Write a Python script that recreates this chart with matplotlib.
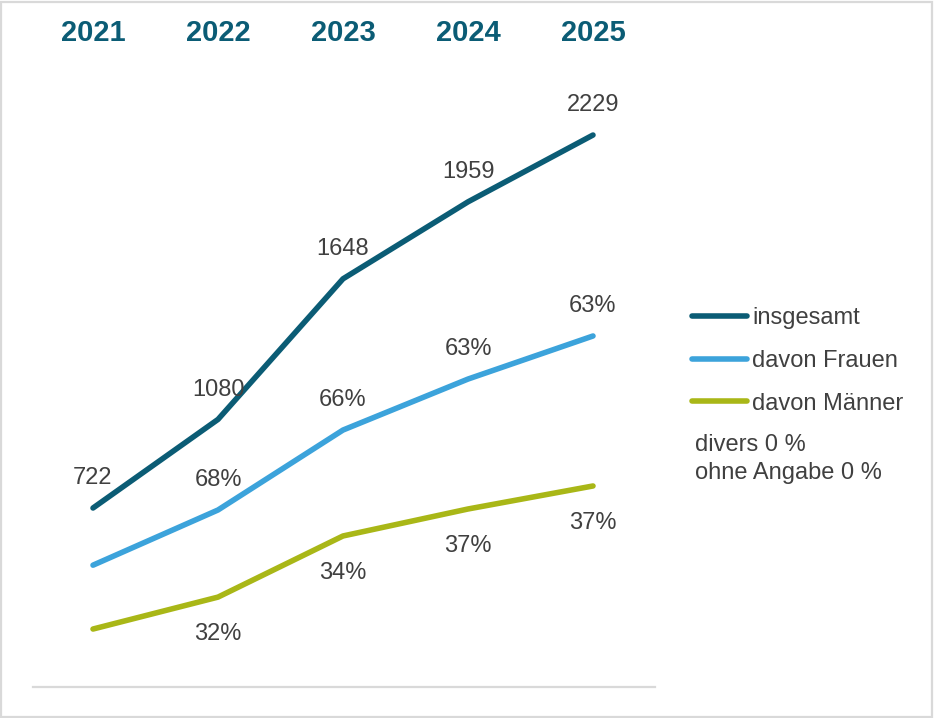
import matplotlib.pyplot as plt
from matplotlib.patches import Rectangle

plt.rcParams['font.family'] = ['Liberation Sans', 'DejaVu Sans']

years = ['2021', '2022', '2023', '2024', '2025']
insgesamt = [722, 1080, 1648, 1959, 2229]
frauen = [491, 714, 1037, 1243, 1417]
maenner = [233, 362, 609, 718, 811]
frauen_pct = ['', '68%', '66%', '63%', '63%']
maenner_pct = ['', '32%', '34%', '37%', '37%']

c_total = '#0b5c75'
c_frauen = '#3ca3db'
c_maenner = '#a9b717'
c_text = '#404040'

W, H = 934, 718
fig = plt.figure(figsize=(W / 100, H / 100), dpi=100)

# axes placed in pixel terms: x from 33 to 655, baseline at y=686.7
x0, x1 = 33, 655
y_base, y_top = 686.7, 20
ax = fig.add_axes([x0 / W, (H - y_base) / H, (x1 - x0) / W, (y_base - y_top) / H])
px_per_unit = 0.2475
ax.set_xlim(-60 / 125, (x1 - 93) / 125)
ax.set_ylim(0, (y_base - y_top) / px_per_unit)

xs = list(range(len(years)))
lw = 4.0
ax.plot(xs, insgesamt, color=c_total, lw=lw, solid_capstyle='round', label='insgesamt')
ax.plot(xs, frauen, color=c_frauen, lw=lw, solid_capstyle='round', label='davon Frauen')
ax.plot(xs, maenner, color=c_maenner, lw=lw, solid_capstyle='round', label='davon Männer')

fs = 17
for x, v in zip(xs, insgesamt):
    ax.annotate(str(v), (x, v), xytext=(0, 21.5), textcoords='offset points',
                ha='center', va='center', fontsize=fs, color=c_text)
for x, v, t in zip(xs, frauen, frauen_pct):
    if t:
        ax.annotate(t, (x, v), xytext=(0, 21.5), textcoords='offset points',
                    ha='center', va='center', fontsize=fs, color=c_text)
for x, v, t in zip(xs, maenner, maenner_pct):
    if t:
        ax.annotate(t, (x, v), xytext=(0, -26.5), textcoords='offset points',
                    ha='center', va='center', fontsize=fs, color=c_text)

# year headings along the top
for x, y in zip(xs, years):
    ax.text(x, 1 - (33 - y_top) / (y_base - y_top), y, transform=ax.get_xaxis_transform(),
            ha='center', va='center', fontsize=21, fontweight='bold', color=c_total,
            clip_on=False)

for s in ['top', 'left', 'right']:
    ax.spines[s].set_visible(False)
ax.spines['bottom'].set_color('#d9d9d9')
ax.spines['bottom'].set_linewidth(1.6)
ax.set_xticks([])
ax.set_yticks([])

leg = fig.legend(loc='upper left', bbox_to_anchor=(692 / W, 1 - 307 / H), frameon=False,
                 fontsize=17, handlelength=2.35, handletextpad=0.2, labelspacing=0.88,
                 borderpad=0, borderaxespad=0)
for t in leg.get_texts():
    t.set_color(c_text)
for h in leg.legend_handles:
    h.set_linewidth(lw)
    h.set_solid_capstyle('round')

fig.text(695 / W, 1 - 445 / H, 'divers 0 %', ha='left', va='center', fontsize=17, color=c_text)
fig.text(695 / W, 1 - 473 / H, 'ohne Angabe 0 %', ha='left', va='center', fontsize=17, color=c_text)

fig.patches.append(Rectangle((1 / W, 1 / H), (W - 3) / W, (H - 3) / H, transform=fig.transFigure,
                             fill=False, edgecolor='#d9d9d9', linewidth=1.6))

fig.savefig('out.png', dpi=100)
